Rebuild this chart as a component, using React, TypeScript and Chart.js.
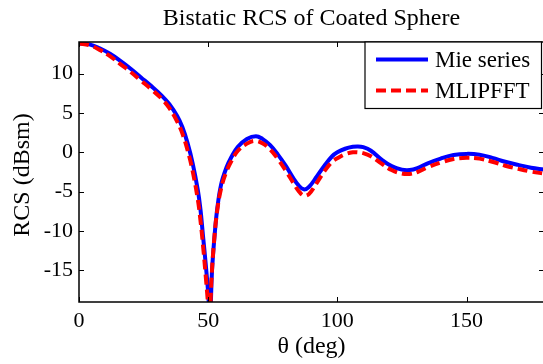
import React, { useEffect, useRef } from "react";
import { Chart, registerables } from "chart.js";

Chart.register(...registerables);

const chartTitle = "Bistatic RCS of Coated Sphere";
const xAxisTitle = "θ (deg)";
const yAxisTitle = "RCS (dBsm)";
const seriesNames = ["Mie series", "MLIPFFT"];

const xTickValues = [0, 50, 100, 150];
const yTickValues = [-15, -10, -5, 0, 5, 10];

const thetaMie = [0, 4, 8, 12, 16, 20, 24, 28, 32, 35, 38, 40, 42, 44, 46, 47, 48, 49, 50, 50.7, 51.5, 52.5, 53.5, 55, 57, 59, 61.5, 65, 68.5, 71, 74, 77, 80, 83, 85, 87, 89, 92, 95, 98, 100, 103, 106, 108, 110, 113, 117, 121, 125, 128, 131, 135, 140, 145, 150, 155, 160, 165, 170, 175, 180];
const rcsMie = [13.8, 13.7, 13.2, 12.5, 11.6, 10.6, 9.5, 8.4, 7.2, 6.1, 4.6, 3.2, 1.2, -1.4, -4.8, -7.2, -10.6, -14, -17.8, -21, -15, -10.5, -7.2, -4.1, -2.0, -0.6, 0.7, 1.7, 2.05, 1.7, 0.9, -0.3, -1.7, -3.3, -4.2, -4.7, -4.4, -3.1, -1.7, -0.5, 0.0, 0.45, 0.7, 0.75, 0.65, 0.2, -0.9, -1.75, -2.2, -2.25, -2.0, -1.4, -0.8, -0.35, -0.2, -0.3, -0.7, -1.2, -1.6, -1.95, -2.2];

const thetaMlip = [0, 4, 8, 12, 16, 20, 24, 28, 32, 35, 38, 40, 42, 44, 46, 47, 48, 49, 50, 50.5, 51.3, 52.3, 53.5, 55, 57, 59, 61.5, 65, 68, 71, 74, 77, 80, 83, 85, 87, 89, 92, 95, 98, 100, 103, 106, 108, 110, 113, 117, 121, 125, 128, 131, 135, 140, 145, 150, 155, 160, 165, 170, 175, 180];
const rcsMlip = [13.8, 13.6, 13.0, 12.2, 11.2, 10.2, 9.1, 8.0, 6.8, 5.6, 3.9, 2.4, 0.3, -2.4, -6.0, -8.6, -11.8, -15.5, -19.5, -22, -16, -11.2, -7.4, -4.6, -2.5, -1.1, 0.2, 1.1, 1.45, 1.15, 0.35, -0.85, -2.3, -3.9, -4.9, -5.5, -5.3, -3.9, -2.4, -1.2, -0.75, -0.25, 0.0, 0.0, -0.1, -0.5, -1.4, -2.25, -2.7, -2.75, -2.5, -1.9, -1.3, -0.85, -0.7, -0.8, -1.2, -1.7, -2.1, -2.45, -2.7];

const FONT = '"Liberation Serif", "Times New Roman", serif';

const decorPlugin = {
  id: "decor",
  afterDraw(chart: any) {
    const { ctx, chartArea: a, scales } = chart;
    ctx.save();
    ctx.strokeStyle = "#000";
    ctx.lineWidth = 1.5;
    ctx.strokeRect(a.left, a.top, a.right - a.left, a.bottom - a.top);
    ctx.lineWidth = 1;
    const tl = 5;
    ctx.beginPath();
    for (const v of xTickValues) {
      const px = Math.round(scales.x.getPixelForValue(v)) + 0.5;
      ctx.moveTo(px, a.bottom);
      ctx.lineTo(px, a.bottom - tl);
      ctx.moveTo(px, a.top);
      ctx.lineTo(px, a.top + tl);
    }
    for (const v of yTickValues) {
      const py = Math.round(scales.y.getPixelForValue(v)) + 0.5;
      ctx.moveTo(a.left, py);
      ctx.lineTo(a.left + tl, py);
      ctx.moveTo(a.right, py);
      ctx.lineTo(a.right - tl, py);
    }
    ctx.stroke();

    ctx.fillStyle = "#000";
    ctx.font = `24px ${FONT}`;
    ctx.textAlign = "center";
    ctx.textBaseline = "alphabetic";
    ctx.fillText(chartTitle, (a.left + a.right) / 2, 25);
    ctx.fillText(xAxisTitle, (a.left + a.right) / 2, 353);
    ctx.save();
    ctx.translate(29, (a.top + a.bottom) / 2 + 3);
    ctx.rotate(-Math.PI / 2);
    ctx.fillText(yAxisTitle, 0, 0);
    ctx.restore();

    const bx = 365, by = a.top, bw = 176.5, bh = 66.5;
    ctx.fillStyle = "#fff";
    ctx.fillRect(bx, by, bw, bh);
    ctx.strokeStyle = "#000";
    ctx.lineWidth = 1.2;
    ctx.strokeRect(bx, by, bw, bh);
    const rows = [
      { y: 59.5, color: "#0000ff", dash: [] as number[] },
      { y: 90.5, color: "#ff0000", dash: [10, 5] },
    ];
    rows.forEach((r, i) => {
      ctx.beginPath();
      ctx.setLineDash(r.dash);
      ctx.strokeStyle = r.color;
      ctx.lineWidth = 4;
      ctx.moveTo(376, r.y);
      ctx.lineTo(428, r.y);
      ctx.stroke();
      ctx.setLineDash([]);
      ctx.fillStyle = "#000";
      ctx.font = `23px ${FONT}`;
      ctx.textAlign = "left";
      ctx.textBaseline = "middle";
      ctx.fillText(seriesNames[i], 435, r.y + 1);
    });
    ctx.restore();
  },
};

export default function App() {
  const ref = useRef<HTMLCanvasElement>(null);
  useEffect(() => {
    if (!ref.current) return;
    const chart = new Chart(ref.current, {
      type: "line",
      data: {
        datasets: [
          {
            label: seriesNames[0],
            data: thetaMie.map((t, i) => ({ x: t, y: rcsMie[i] })),
            borderColor: "#0000ff",
            borderWidth: 4,
            pointRadius: 0,
            tension: 0.4,
            fill: false,
            order: 2,
          },
          {
            label: seriesNames[1],
            data: thetaMlip.map((t, i) => ({ x: t, y: rcsMlip[i] })),
            borderColor: "#ff0000",
            borderWidth: 4,
            borderDash: [10, 5],
            pointRadius: 0,
            tension: 0.4,
            fill: false,
            order: 1,
          },
        ],
      },
      plugins: [decorPlugin],
      options: {
        animation: false,
        responsive: false,
        devicePixelRatio: 1,
        layout: { padding: { top: 42, right: 16, left: 0, bottom: 0 } },
        plugins: { legend: { display: false }, tooltip: { enabled: false }, title: { display: false } },
        scales: {
          x: {
            type: "linear",
            min: 0,
            max: 180,
            grid: { display: false, drawTicks: false },
            border: { display: false },
            afterFit: (s: any) => { s.height = 62; },
            afterBuildTicks: (s: any) => { s.ticks = xTickValues.map((v) => ({ value: v })); },
            ticks: { font: { family: FONT, size: 22 }, color: "#000", padding: 6, maxRotation: 0 },
          },
          y: {
            type: "linear",
            min: -19,
            max: 14,
            grid: { display: false, drawTicks: false },
            border: { display: false },
            afterFit: (s: any) => { s.width = 79; },
            afterBuildTicks: (s: any) => { s.ticks = yTickValues.map((v) => ({ value: v })); },
            ticks: { font: { family: FONT, size: 22 }, color: "#000", padding: 6 },
          },
        },
      },
    });
    return () => chart.destroy();
  }, []);
  return (
    <div style={{ position: "fixed", left: 0, top: 0, width: 543, height: 364, overflow: "hidden", background: "#fff" }}>
      <canvas ref={ref} width={560} height={364} style={{ display: "block", width: 560, height: 364 }} />
    </div>
  );
}
